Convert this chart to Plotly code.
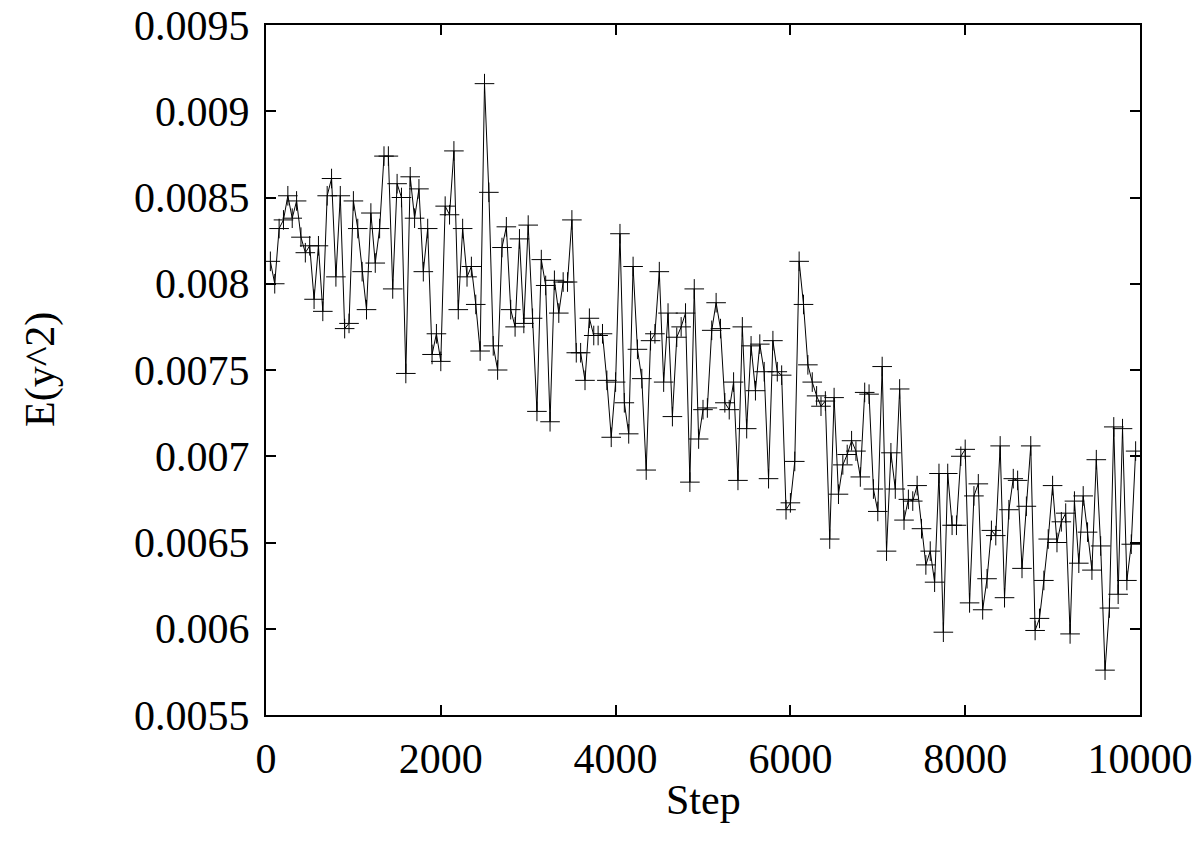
import plotly.graph_objects as go

steps = list(range(50, 10000, 50))

ey2 = [
    0.00813, 0.00800, 0.00832, 0.00837, 0.00851, 0.00838, 0.00848, 0.00827, 0.00818, 0.00822,
    0.00791, 0.00822, 0.00784, 0.00851, 0.00861, 0.00804, 0.00851, 0.00774, 0.00777, 0.00848,
    0.00832, 0.00807, 0.00785, 0.00841, 0.00812,
    0.00832, 0.00874, 0.00874, 0.00797, 0.00858, 0.00850, 0.00748, 0.00862, 0.00838, 0.00855,
    0.00807, 0.00832, 0.00759, 0.00771, 0.00755, 0.00845, 0.00840, 0.00877, 0.00785, 0.00832,
    0.00804, 0.00810, 0.00788, 0.00761, 0.00916,
    0.00853, 0.00764, 0.00750, 0.00821, 0.00833, 0.00785, 0.00775, 0.00826, 0.00777, 0.00834,
    0.00780, 0.00726, 0.00814, 0.00799, 0.00720, 0.00802, 0.00783, 0.00801, 0.00801, 0.00837,
    0.00760, 0.00760, 0.00744, 0.00780, 0.00770, 0.00770,
    0.00771, 0.00744, 0.00711, 0.00743, 0.00829, 0.00731, 0.00713, 0.00810, 0.00762, 0.00745,
    0.00692, 0.00767, 0.00771, 0.00807, 0.00743, 0.00783, 0.00723, 0.00769, 0.00775, 0.00783,
    0.00685, 0.00797, 0.00710, 0.00727, 0.00728,
    0.00773, 0.00789, 0.00774, 0.00731, 0.00727, 0.00743, 0.00686, 0.00775, 0.00716, 0.00764,
    0.00738, 0.00765, 0.00749, 0.00687, 0.00767, 0.00749, 0.00747, 0.00669, 0.00673, 0.00697,
    0.00813, 0.00788, 0.00753, 0.00743, 0.00735,
    0.00729, 0.00732, 0.00652, 0.00734, 0.00678, 0.00695, 0.00701, 0.00709, 0.00703, 0.00688,
    0.00737, 0.00736, 0.00681, 0.00668, 0.00752, 0.00645, 0.00702, 0.00681, 0.00739, 0.00663,
    0.00675, 0.00674, 0.00683,
    0.00658, 0.00637, 0.00645, 0.00627, 0.00690, 0.00598, 0.00690, 0.00660, 0.00660, 0.00700,
    0.00704, 0.00615, 0.00677, 0.00684, 0.00611, 0.00629, 0.00657, 0.00654, 0.00706, 0.00618,
    0.00669, 0.00687, 0.00686, 0.00635, 0.00671,
    0.00706, 0.00599, 0.00606, 0.00628, 0.00652, 0.00683, 0.00650, 0.00662, 0.00667, 0.00597,
    0.00674, 0.00638, 0.00677, 0.00656, 0.00634, 0.00698, 0.00648, 0.00576, 0.00612, 0.00717,
    0.00620, 0.00716, 0.00628, 0.00649, 0.00703,
]

x_ticks = [0, 2000, 4000, 6000, 8000, 10000]
x_ticktext = ["0", "2000", "4000", "6000", "8000", "10000"]
y_ticks = [0.0055, 0.006, 0.0065, 0.007, 0.0075, 0.008, 0.0085, 0.009, 0.0095]
y_ticktext = ["0.0055", "0.006", "0.0065", "0.007", "0.0075", "0.008", "0.0085", "0.009", "0.0095"]

FONT = "Liberation Serif, Times New Roman, serif"
FS = 42

fig = go.Figure()
fig.add_trace(go.Scatter(
    x=steps, y=ey2, mode="lines+markers",
    line=dict(color="black", width=1),
    marker=dict(symbol="cross-thin", size=14, color="black",
                line=dict(color="black", width=1)),
    showlegend=False,
))

axis_common = dict(
    showgrid=False, zeroline=False, showline=True, linecolor="black", linewidth=2,
    mirror="ticks", ticks="inside", ticklen=10, tickwidth=1.5, tickcolor="black",
    tickfont=dict(family=FONT, size=FS, color="black"), automargin=False,
    ticklabeloverflow="allow",
)

fig.update_xaxes(range=[0, 10000], tickvals=x_ticks, ticktext=x_ticktext,
                 ticklabelstandoff=6, **axis_common)
fig.update_yaxes(range=[0.0055, 0.0095], tickvals=y_ticks, ticktext=y_ticktext,
                 ticklabelstandoff=6, **axis_common)

fig.update_layout(
    width=1201, height=851,
    margin=dict(l=266, r=61, t=25, b=136, autoexpand=False),
    plot_bgcolor="white", paper_bgcolor="white",
    font=dict(family=FONT, size=FS, color="black"),
    annotations=[
        dict(text="Step", xref="paper", yref="paper", x=0.5, y=-(800 - 715) / 690,
             showarrow=False, xanchor="center", yanchor="middle",
             font=dict(family=FONT, size=FS, color="black")),
        dict(text="E(y^2)", xref="paper", yref="paper", x=(40 - 266) / 874, y=0.5,
             textangle=-90, showarrow=False, xanchor="center", yanchor="middle",
             font=dict(family=FONT, size=FS, color="black")),
    ],
)

fig.write_html("out.html",
               config={"displayModeBar": False},
               post_script="document.body.style.margin='0';document.body.style.overflow='hidden';")
